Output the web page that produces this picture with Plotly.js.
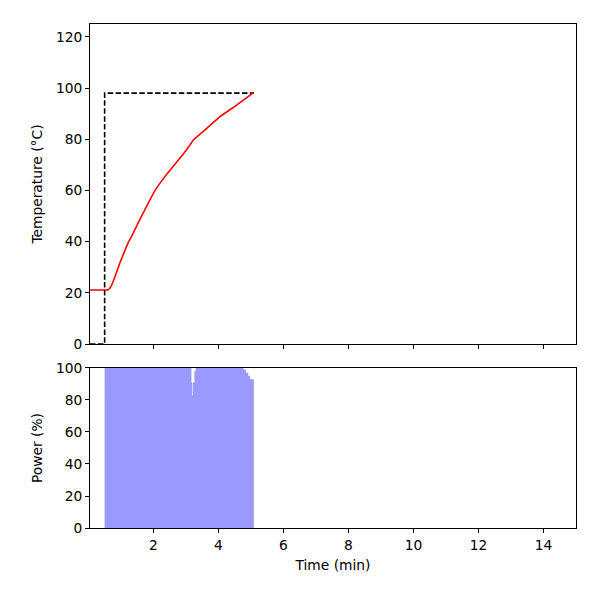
<!DOCTYPE html>
<html>
<head>
<meta charset="utf-8">
<script src="https://cdn.plot.ly/plotly-3.0.1.min.js"></script>
<style>html,body{margin:0;padding:0;background:#fff;}#chart{width:600px;height:600px;}</style>
</head>
<body>
<div id="chart"></div>
<script>
// Setpoint (dashed)
const spTime = [0.05, 0.5, 0.5, 5.09];
const spValue = [0, 0, 98, 98];

// Measured temperature (red)
const tempTime = [0.05, 0.3, 0.55, 0.62, 0.7, 0.78, 0.88, 0.985, 1.1, 1.24, 1.4, 1.55, 1.8, 2.06, 2.32, 2.73, 3.0, 3.24, 3.65, 4.06, 4.58, 5.09];
const tempValue = [21.1, 21.1, 21.1, 21.3, 22.6, 25.0, 28.5, 32.2, 35.8, 40.0, 43.8, 47.8, 54.0, 60.2, 64.8, 71.3, 75.5, 79.8, 84.3, 88.9, 93.5, 98.3];

// Heater power (%)
const powTime = [0.05, 0.5, 3.17, 3.2, 3.22, 3.26, 3.3, 4.77, 4.85, 4.92, 4.97, 5.09];
const powValue = [0, 100, 91, 83, 91, 98, 100, 99, 97, 95, 93, 0];

const font = {family: 'DejaVu Sans, sans-serif', size: 13.8, color: '#000'};

const traces = [
  {x: spTime, y: spValue, type: 'scatter', mode: 'lines', xaxis: 'x', yaxis: 'y',
   line: {color: '#000', width: 1.6, dash: '5.5px,2.4px'}, hoverinfo: 'skip'},
  {x: tempTime, y: tempValue, type: 'scatter', mode: 'lines', xaxis: 'x', yaxis: 'y',
   line: {color: '#ff0000', width: 1.6, shape: 'spline', smoothing: 0.4}},
  {x: powTime, y: powValue, type: 'scatter', mode: 'lines', xaxis: 'x2', yaxis: 'y2',
   fill: 'tozeroy', fillcolor: 'rgba(0,0,255,0.4)', line: {width: 0, shape: 'hv', color: 'rgba(0,0,255,0.4)'}}
];

const axBase = {
  showline: true, linecolor: '#000', linewidth: 1, mirror: true,
  ticks: 'outside', ticklen: 4, tickwidth: 1, tickcolor: '#000',
  showgrid: false, zeroline: false, tickfont: font
};

const layout = {
  width: 600, height: 600,
  margin: {l: 90, r: 24, t: 24, b: 72},
  paper_bgcolor: '#fff', plot_bgcolor: '#fff',
  showlegend: false, font: font,
  xaxis: Object.assign({}, axBase, {range: [0.05, 15], domain: [0, 1], anchor: 'y', tickvals: [2,4,6,8,10,12,14], showticklabels: false}),
  yaxis: Object.assign({}, axBase, {range: [0, 125], domain: [0.365, 1], anchor: 'x', tickvals: [0,20,40,60,80,100,120],
    title: {text: 'Temperature (°C)', font: font, standoff: 10}}),
  xaxis2: Object.assign({}, axBase, {range: [0.05, 15], domain: [0, 1], anchor: 'y2', tickvals: [2,4,6,8,10,12,14],
    title: {text: 'Time (min)', font: font, standoff: 8}}),
  yaxis2: Object.assign({}, axBase, {range: [0, 100], domain: [0, 0.3175], anchor: 'x2', tickvals: [0,20,40,60,80,100],
    title: {text: 'Power (%)', font: font, standoff: 10}})
};

Plotly.newPlot('chart', traces, layout, {staticPlot: true, displayModeBar: false});
</script>
</body>
</html>
